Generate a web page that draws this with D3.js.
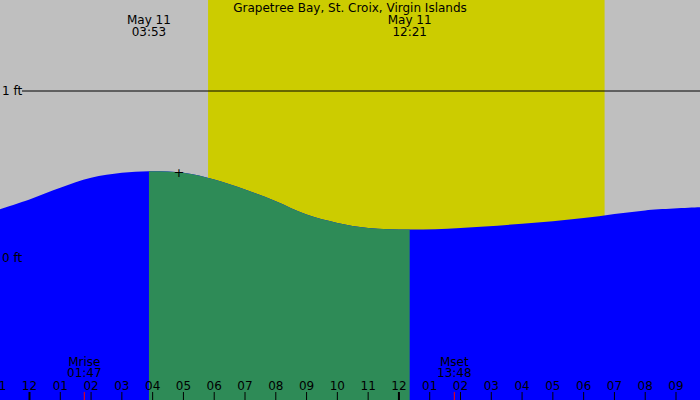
<!DOCTYPE html>
<html><head><meta charset="utf-8">
<script src="https://cdn.jsdelivr.net/npm/d3@7"></script>
<style>body{margin:0;background:#bfbfbf}svg{display:block;font-family:"DejaVu Sans",sans-serif}</style>
</head><body>
<svg id="chart" width="700" height="400"></svg>
<script>
// tide heights (ft), hours from midnight May 11
const tideHours  = [-1, 0, 1, 2, 3, 3.88, 5, 6, 7, 8, 9, 10, 11, 12.35, 14, 16, 18, 20, 22];
const tideFeet   = [0.29, 0.35, 0.42, 0.48, 0.51, 0.52, 0.51, 0.47, 0.41, 0.34, 0.26, 0.21, 0.18, 0.17, 0.18, 0.205, 0.24, 0.285, 0.305];
const extremes   = [{h: 3.88, date: "May 11", time: "03:53"}, {h: 12.35, date: "May 11", time: "12:21"}];
const daylight   = [5.8, 18.68];
const moonEvents = [{h: 1.78, name: "Mrise", time: "01:47"}, {h: 13.8, name: "Mset", time: "13:48"}];
const tickHours  = d3.range(-1, 22);
const ftTicks    = [0, 1];

let chart = d3.select("#chart");
let x = d3.scaleLinear().domain([0, 21]).range([29.5, 676]);
let y = d3.scaleLinear().domain([0, 1]).range([258, 91]);

// background / daylight
chart.append("rect").attr("width", 700).attr("height", 400).attr("fill", "#bfbfbf");
chart.append("rect").attr("x", x(daylight[0])).attr("y", 0)
    .attr("width", x(daylight[1]) - x(daylight[0])).attr("height", 400).attr("fill", "#cccc00");

let pts = tideHours.map((h, i) => [h, tideFeet[i]]);
let area = d3.area().curve(d3.curveCatmullRom)
    .x(d => x(d[0])).y0(400).y1(d => y(d[1]));
chart.append("path").datum(pts).attr("d", area).attr("fill", "#0000ff");

// falling tide between high and low in green
chart.append("clipPath").attr("id", "fall").append("rect")
    .attr("x", x(extremes[0].h)).attr("y", 0)
    .attr("width", x(extremes[1].h) - x(extremes[0].h)).attr("height", 400);
chart.append("path").datum(pts).attr("d", area).attr("fill", "#2e8b57").attr("clip-path", "url(#fall)");

// ft lines
ftTicks.forEach(f => {
  if (f > 0) chart.append("line").attr("x1", 22).attr("x2", 700).attr("y1", y(f)).attr("y2", y(f)).attr("stroke", "#000");
  chart.append("text").text(f + " ft").attr("x", 2).attr("y", y(f) + 4).attr("font-size", 12);
});

// title and extremes
chart.append("text").text("Grapetree Bay, St. Croix, Virgin Islands").attr("x", 350).attr("y", 12)
    .attr("text-anchor", "middle").attr("font-size", 12);
extremes.forEach(e => {
  chart.append("text").text(e.date).attr("x", x(e.h)).attr("y", 24).attr("text-anchor", "middle").attr("font-size", 12);
  chart.append("text").text(e.time).attr("x", x(e.h)).attr("y", 36).attr("text-anchor", "middle").attr("font-size", 12);
});
chart.append("text").text("+").attr("x", 179).attr("y", 177).attr("text-anchor", "middle").attr("font-size", 13);

// hour axis
let fmt = h => { let v = ((h % 12) + 12) % 12; return d3.format("02")(v === 0 ? 12 : v); };
tickHours.forEach(h => {
  chart.append("text").text(fmt(h)).attr("x", x(h)).attr("y", 390).attr("text-anchor", "middle").attr("font-size", 12);
  chart.append("line").attr("x1", x(h)).attr("x2", x(h)).attr("y1", 392).attr("y2", 400)
      .attr("stroke", "#000").attr("stroke-width", h % 12 === 0 ? 2 : 1);
});

// moon
moonEvents.forEach(m => {
  chart.append("line").attr("x1", x(m.h)).attr("x2", x(m.h)).attr("y1", 392).attr("y2", 400).attr("stroke", "#f00");
  chart.append("text").text(m.name).attr("x", x(m.h)).attr("y", 366).attr("text-anchor", "middle").attr("font-size", 12);
  chart.append("text").text(m.time).attr("x", x(m.h)).attr("y", 377).attr("text-anchor", "middle").attr("font-size", 12);
});
</script>
</body></html>
